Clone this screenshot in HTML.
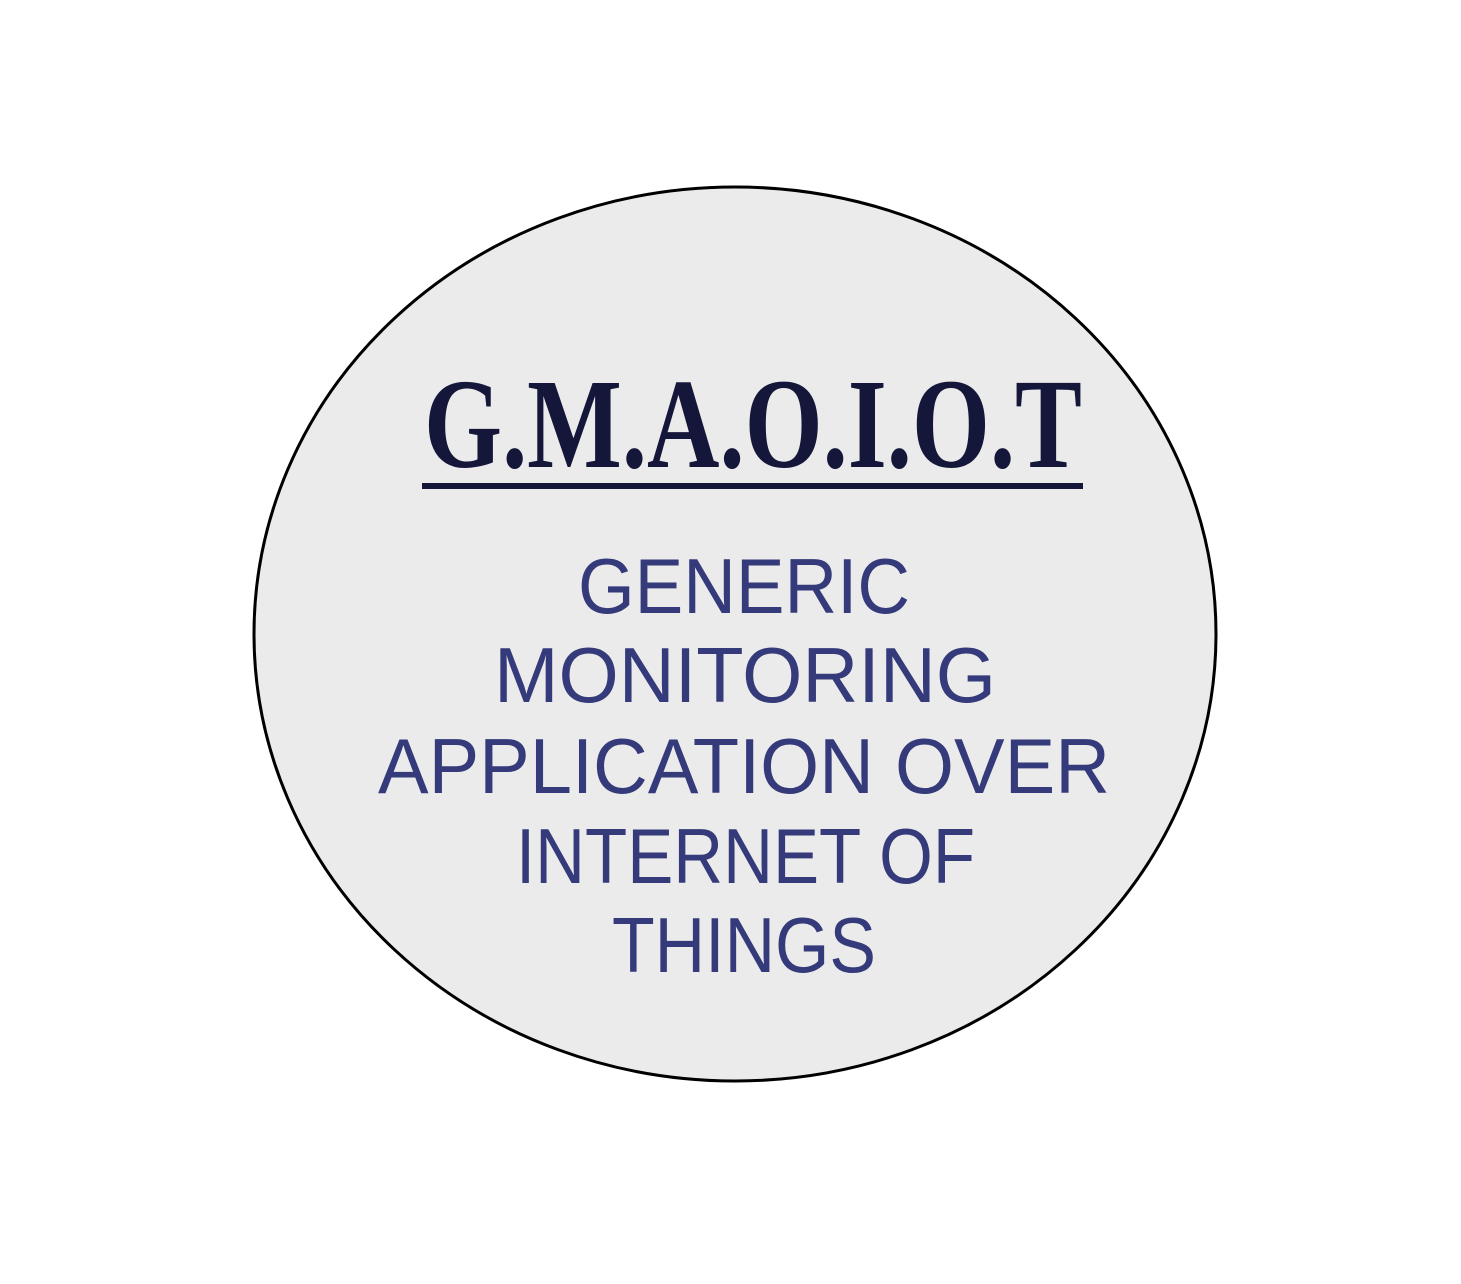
<!DOCTYPE html>
<html><head><meta charset="utf-8"><style>html,body{margin:0;padding:0;background:#fff}svg{display:block}</style></head>
<body>
<svg width="1461" height="1284" viewBox="0 0 1461 1284" xmlns="http://www.w3.org/2000/svg">
<ellipse cx="735" cy="634" rx="481" ry="447" fill="#ebebeb" stroke="#000" stroke-width="3"/>
<text x="424" y="467" font-family="Liberation Serif, serif" font-weight="bold" font-size="128" fill="#15173a" textLength="658" lengthAdjust="spacingAndGlyphs">G.M.A.O.I.O.T</text>
<rect x="422" y="483" width="661" height="6" fill="#15173a"/>
<g font-family="Liberation Sans, sans-serif" font-size="78" fill="#343a7a">
<text x="578" y="613" textLength="332" lengthAdjust="spacingAndGlyphs">GENERIC</text>
<text x="494" y="702" textLength="502" lengthAdjust="spacingAndGlyphs">MONITORING</text>
<text x="378" y="793" textLength="732" lengthAdjust="spacingAndGlyphs">APPLICATION OVER</text>
<text x="516" y="883" textLength="459" lengthAdjust="spacingAndGlyphs">INTERNET OF</text>
<text x="612" y="972" textLength="264" lengthAdjust="spacingAndGlyphs">THINGS</text>
</g>
</svg>
</body></html>
